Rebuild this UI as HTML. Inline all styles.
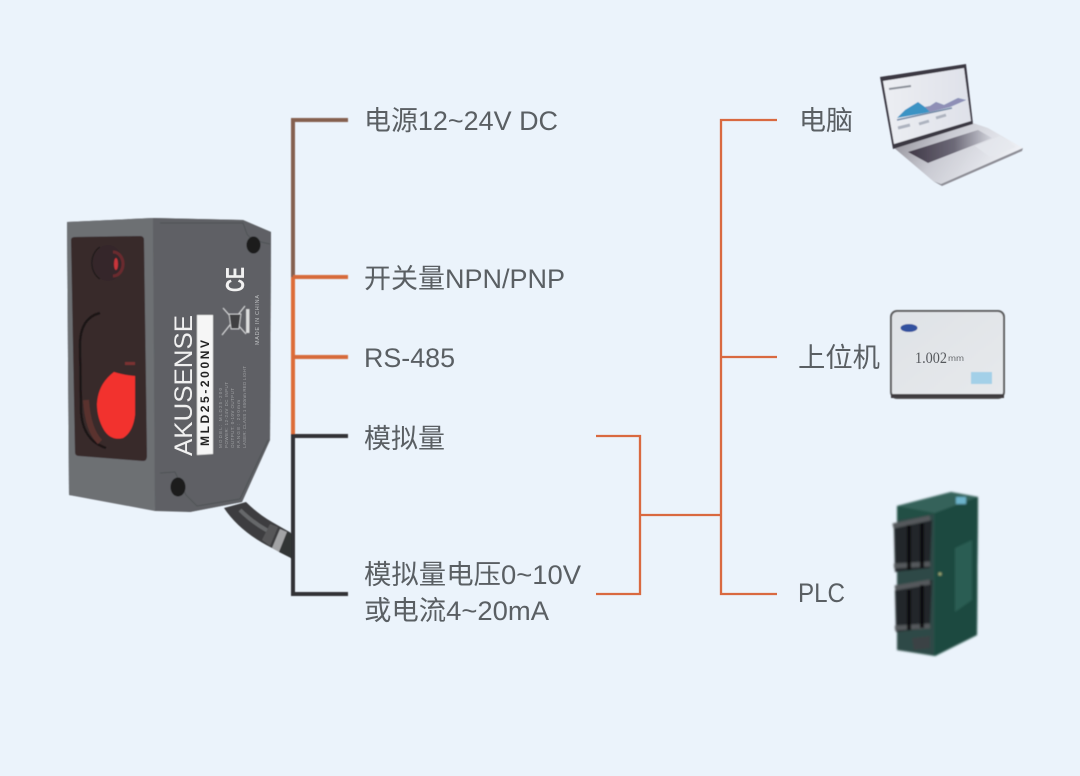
<!DOCTYPE html>
<html><head><meta charset="utf-8">
<style>
html,body{margin:0;padding:0;background:#ebf3fb;width:1080px;height:776px;overflow:hidden}
svg{display:block}
text{font-family:"Liberation Sans","Noto Sans CJK SC",sans-serif}
.t{font-size:27px;fill:#5a5f64;font-weight:400}
</style></head>
<body>
<svg width="1080" height="776" viewBox="0 0 1080 776" xmlns="http://www.w3.org/2000/svg">
<defs>
<filter id="b0"><feGaussianBlur stdDeviation="0.25"/></filter>
<filter id="b1"><feGaussianBlur stdDeviation="0.6"/></filter>
<filter id="b2"><feGaussianBlur stdDeviation="1.1"/></filter>
<linearGradient id="lap" x1="0" y1="0" x2="1" y2="0.3"><stop offset="0" stop-color="#8a8890"/><stop offset=".45" stop-color="#c9cad2"/><stop offset="1" stop-color="#eef0f5"/></linearGradient>
<linearGradient id="key" x1="0" y1="0" x2="1" y2="0"><stop offset="0" stop-color="#3f3846"/><stop offset=".55" stop-color="#6d6a78"/><stop offset="1" stop-color="#d4d6de"/></linearGradient>
<linearGradient id="scr" x1="0" y1="0" x2="1" y2="0"><stop offset="0" stop-color="#eceef3"/><stop offset="1" stop-color="#dfe1e9"/></linearGradient>
<linearGradient id="hmi" x1="0" y1="0" x2="1" y2="1"><stop offset="0" stop-color="#dfe2e6"/><stop offset="1" stop-color="#e6e9ec"/></linearGradient>
</defs>
<rect width="1080" height="776" fill="#ebf3fb"/>

<!-- cable -->
<g filter="url(#b1)">
<path d="M224 508 L246 502 Q258 514 272 522 L293 534 L293 559 L272 548 Q240 532 224 508Z" fill="#3c3d3f"/>
<path d="M240 510 Q252 522 268 531" stroke="#66686a" stroke-width="4" fill="none"/>
<path d="M270 524 L262 540 L270 546 L278 527Z" fill="#565759"/>
<path d="M280 529 L272 548 L279 552 L287 532Z" fill="#a2a3a5"/>
<path d="M287 532 L279 552 L293 559 L293 535Z" fill="#333436"/>
</g>

<!-- sensor -->
<g filter="url(#b1)">
<path d="M67 222 L153 218 L243 220 L271 232 L270 440 L242 502 L190 512 L69 495Z" fill="#646669"/>
<path d="M67 222 L153 218 L155 511 L69 495Z" fill="#6d6f73"/>
<path d="M153 218 L243 220 L271 232 L270 440 L242 502 L190 512 L155 511Z" fill="#5f6165"/>
<path d="M71 240 Q71 237 75 237 L140 236 Q144 236 144 240 L147 456 Q147 461 143 461 L79 456 Q75 456 75 452Z" fill="#382a2b"/>
<ellipse cx="108" cy="263" rx="15" ry="18" fill="#352829"/>
<path d="M100 247 A15 18 0 0 0 100 279" stroke="#241c1d" stroke-width="1.500" fill="none"/>
<path d="M113 252 A10 12 0 0 1 113 276" stroke="#6a2c2e" stroke-width="3" fill="none"/>
<ellipse cx="116" cy="264" rx="2" ry="6" fill="#c8343a"/>
<path d="M100 313 Q80 318 80 345 L81 410 Q82 440 106 448" stroke="#1f1819" stroke-width="2.500" fill="none"/>
<path d="M86 400 Q88 430 100 442" stroke="#5a332e" stroke-width="6" fill="none"/>
<path d="M114 372 Q123 375 135 376 L135 415 Q133 432 123 438 Q111 441 104 430 Q97 418 97 404 Q98 384 114 372Z" fill="#f2312f"/>
<rect x="125" y="362" width="10" height="3" fill="#7a3232"/>
<path d="M160 223 L243 223 L247 234 Q250 240 270 244" stroke="#505256" stroke-width="1" fill="none"/>
<path d="M160 473 L175 472 L186 495 L197 506 L240 499 L268 440" stroke="#505256" stroke-width="1" fill="none"/>
<ellipse cx="253.500" cy="245" rx="7" ry="8.500" fill="#1b1b1d"/>
<ellipse cx="178" cy="487" rx="7.500" ry="9.500" fill="#1b1b1d"/>
<path d="M197 315 L213 315 L213 454 L197 455Z" fill="#f6f6f6"/>
</g>
<text transform="translate(192,456) rotate(-90)" font-size="25" fill="#f0f0f0" textLength="141" lengthAdjust="spacingAndGlyphs" filter="url(#b0)">AKUSENSE</text>
<text transform="translate(209,446) rotate(-90)" font-size="12" font-weight="700" fill="#222" textLength="106" lengthAdjust="spacing" filter="url(#b0)">MLD25-200NV</text>
<g fill="#b8babc" font-size="4.500" opacity=".7">
<text transform="translate(222,448) rotate(-90)" textLength="60">MODEL: MLD25-200</text>
<text transform="translate(228,448) rotate(-90)" textLength="66">POWER: 12-24V DC INPUT</text>
<text transform="translate(234,448) rotate(-90)" textLength="60">OUTPUT: 0-10V OUTPUT</text>
<text transform="translate(240,448) rotate(-90)" textLength="48">RANGE: 200mm</text>
<text transform="translate(246,448) rotate(-90)" textLength="82">LASER: CLASS 1 650nm RED LIGHT</text>
</g>
<text transform="translate(244,292) rotate(-90)" font-size="26" font-weight="700" fill="#f2f2f2" textLength="25" lengthAdjust="spacingAndGlyphs" filter="url(#b0)">CE</text>
<text transform="translate(259,345) rotate(-90)" font-size="5.500" fill="#c0c2c4" textLength="50">MADE IN CHINA</text>
<g filter="url(#b1)">
<path d="M223 308 L246 334 M222 335 L245 306" stroke="#d6d7d8" stroke-width="1.300" fill="none"/>
<path d="M229 314 H241 L239 329 H231Z" fill="#3f4043" stroke="#cfd0d1" stroke-width="1"/>
<rect x="246" y="309" width="3.500" height="24" fill="#dcdddd"/>
</g>

<!-- left connectors -->
<g fill="none" stroke-width="4" filter="url(#b1)">
<path d="M348 120 H293 V277" stroke="#85604f"/>
<path d="M293 277 V435" stroke="#dd6c38"/>
<path d="M293 277 H348 M293 357 H348" stroke="#d76a3b"/>
<path d="M348 436 H293 V594 H348" stroke="#303034"/>
</g>

<!-- right connectors -->
<g fill="none" stroke="#d9693f" stroke-width="2.300" filter="url(#b0)">
<path d="M596 436 H640 V594 H596"/>
<path d="M640 515 H721"/>
<path d="M777 120 H721 V594 H777"/>
<path d="M721 357 H777"/>
</g>

<!-- labels -->
<g filter="url(#b0)">
<text class="t" x="364" y="130" textLength="194" lengthAdjust="spacingAndGlyphs">电源12~24V DC</text>
<text class="t" x="364" y="288" textLength="201" lengthAdjust="spacingAndGlyphs">开关量NPN/PNP</text>
<text class="t" x="364" y="367" textLength="91" lengthAdjust="spacingAndGlyphs">RS-485</text>
<text class="t" x="364" y="448" textLength="81" lengthAdjust="spacingAndGlyphs">模拟量</text>
<text class="t" x="364" y="584" textLength="217" lengthAdjust="spacingAndGlyphs">模拟量电压0~10V</text>
<text class="t" x="364" y="620" textLength="185" lengthAdjust="spacingAndGlyphs">或电流4~20mA</text>
<text class="t" x="799" y="130" textLength="54" lengthAdjust="spacingAndGlyphs">电脑</text>
<text class="t" x="798" y="367" textLength="82" lengthAdjust="spacingAndGlyphs">上位机</text>
<text class="t" x="798" y="602" textLength="47" lengthAdjust="spacingAndGlyphs">PLC</text>
</g>

<!-- laptop -->
<g filter="url(#b1)">
<path d="M893 147 L973 123 L988 128 L1023 148 L941 184 L933 181Z" fill="url(#lap)"/>
<path d="M933 181 L941 184 L1023 148 L1022 151 L942 186Z" fill="#8e8e96"/>
<path d="M908 152 L978 130 L992 138 L928 163Z" fill="url(#key)"/>
<path d="M975 146 L1000 136 L1016 147 L990 157Z" fill="#e6e8ee" opacity=".7"/>
<path d="M880 77 L966 64 L973 124 L893 149Z" fill="#3b3842"/>
<path d="M883 81 L964 68 L971 121 L894 144Z" fill="url(#scr)"/>
<path d="M897 118 L905 110 L918 102 L925 107 L930 106 L936 102 L944 105 L958 98 L966 100 L950 107 L925 113Z" fill="#3a93c4"/>
<path d="M925 107 L930 106 L936 102 L944 105 L958 98 L966 100 L950 107 L930 112Z" fill="#8f8fb6"/>
<path d="M897 120 L952 108" stroke="#6f87a5" stroke-width="1.500"/>
<path d="M898 128 L910 125 M919 124 L929 121 M936 118 L946 115" stroke="#aeb4c0" stroke-width="3"/>
<path d="M889 89 L911 86" stroke="#8a8f98" stroke-width="2"/>
</g>

<!-- HMI -->
<g filter="url(#b1)">
<rect x="891" y="311" width="113" height="87" rx="6" fill="url(#hmi)" stroke="#5d5d5f" stroke-width="2"/>
<path d="M891 394 H1004 V398 H891Z" fill="#3f3d3f"/>
<ellipse cx="909" cy="328" rx="8.500" ry="4" fill="#33519f"/>
<rect x="971" y="372" width="21" height="12" fill="#a3d0e8"/>
</g>
<text x="915" y="363" font-size="16" style="font-family:'Liberation Serif',serif" fill="#55585c" textLength="32" lengthAdjust="spacingAndGlyphs" filter="url(#b0)">1.002</text>
<text x="948" y="361" font-size="8" fill="#6a6d70" textLength="16" lengthAdjust="spacingAndGlyphs" filter="url(#b0)">mm</text>

<!-- PLC -->
<g filter="url(#b2)">
<path d="M897 506 L951 492 L978 497 L977 635 L935 656 L897 650Z" fill="#234f45"/>
<path d="M897 506 L951 492 L978 497 L935 513Z" fill="#35625a"/>
<path d="M935 513 L978 497 L977 635 L935 656Z" fill="#1b4a40"/>
<path d="M897 520 L934 514 L934 655 L897 650Z" fill="#2f4a46"/>
<path d="M894 528 L932 520 L930 568 L895 572Z" fill="#23282a"/>
<path d="M895 590 L932 580 L930 628 L896 632Z" fill="#23282a"/>
<path d="M893 526 L930 518 M894 566 L930 564 M895 588 L930 582 M895 628 L930 626" stroke="#54595c" stroke-width="5"/>
<path d="M909 525 V570 M922 523 V568 M909 590 V630 M922 585 V628" stroke="#0c0d0f" stroke-width="4"/>
<rect x="956" y="497" width="10" height="7" fill="#6db3cb"/>
<path d="M912 638 L930 636 V648 L914 650Z" fill="#3a4244"/>
<path d="M955 548 L972 540 V600 L955 612Z" fill="#2a5d52"/>
<circle cx="940" cy="574" r="1.500" fill="#a8b27a"/>
</g>
</svg>
</body></html>
